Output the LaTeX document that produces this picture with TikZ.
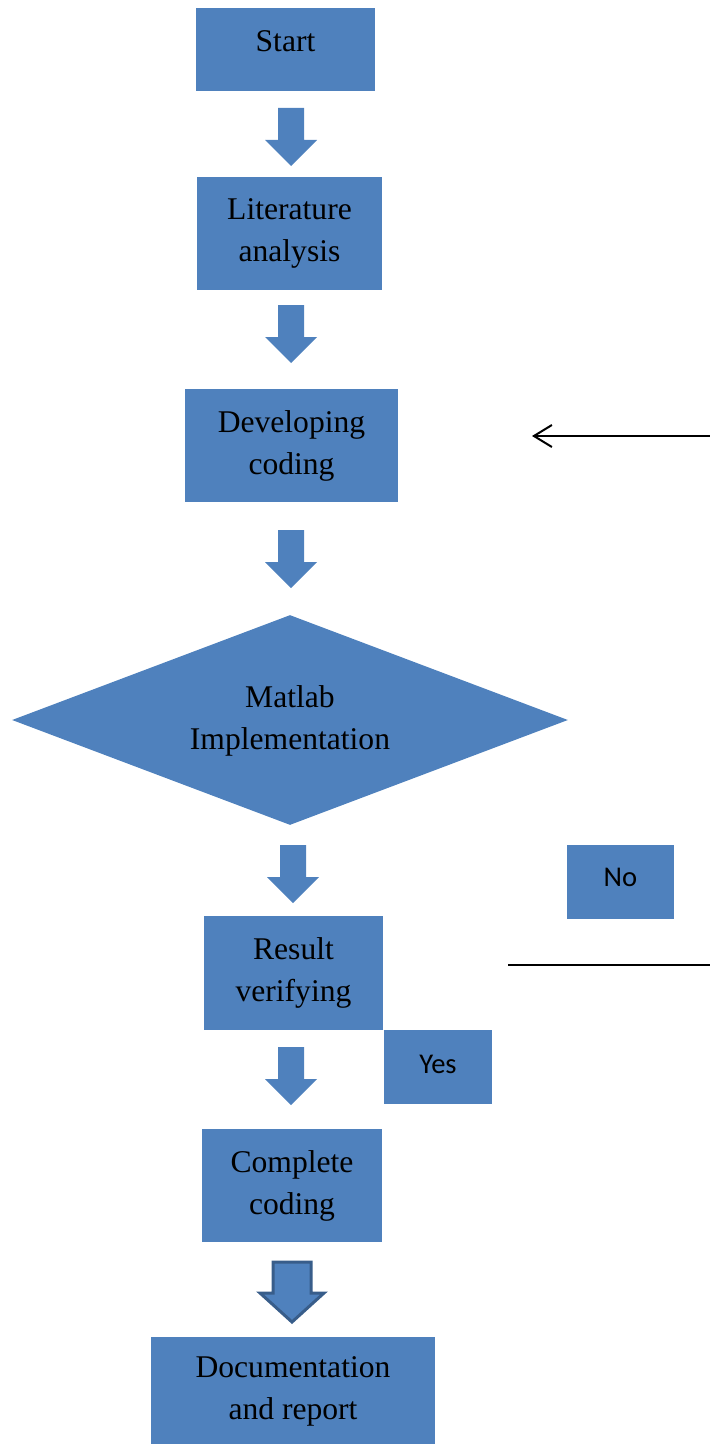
\documentclass[tikz,border=0pt]{standalone}
\usepackage{fontspec}
\setmainfont{Liberation Serif}
\newfontfamily\calibrifont{Carlito}
\usetikzlibrary{shapes.geometric,arrows.meta}
\definecolor{boxblue}{HTML}{4F81BD}
\definecolor{edgeblue}{HTML}{385D8A}
\tikzset{
  stepbox/.style={fill=boxblue, inner sep=0pt, align=center,
    font=\fontsize{15.8}{21}\selectfont},
  tagbox/.style={fill=boxblue, inner sep=0pt,
    font=\calibrifont\fontsize{14.3}{17}\selectfont},
}
% block arrow pointing down: centre x, top y
\newcommand{\downblock}[2]{%
  \fill[boxblue] (#1-13,#2) -- (#1+13,#2) -- (#1+13,#2+32) -- (#1+26,#2+32)
    -- (#1,#2+58) -- (#1-26,#2+32) -- (#1-13,#2+32) -- cycle;}
\begin{document}
\begin{tikzpicture}[x=0.5pt, y=-0.5pt]
            \useasboundingbox (0,0) rectangle (710,1445);
            \node[stepbox, minimum width=89.5pt, minimum height=41.5pt] (start) at (285.5,49.5) {\raisebox{8pt}{Start}};
            \downblock{291}{108}
            \node[stepbox, minimum width=92.5pt, minimum height=56.5pt] (lit) at (289.5,233.5) {Literature\\analysis};
            \downblock{291}{305}
            \node[stepbox, minimum width=106.5pt, minimum height=56.5pt] (dev) at (291.5,445.5) {Developing\\coding};
            \downblock{291}{530}
            \node[stepbox, diamond, aspect=2.65, minimum width=278pt, minimum height=105pt] (matlab) at (290,720) {\raisebox{-3pt}{\begin{tabular}{@{}c@{}}Matlab\\Implementation\end{tabular}}};
            \downblock{293}{845}
            \node[stepbox, minimum width=89.5pt, minimum height=57pt] (verify) at (293.5,973) {Result\\verifying};
            \node[tagbox, minimum width=54pt, minimum height=37pt] (yes) at (438,1067) {\raisebox{3pt}{Yes}};
            \node[tagbox, minimum width=53.5pt, minimum height=37pt] (no) at (620.5,882) {\raisebox{4.5pt}{No}};
            \downblock{291}{1047}
            \node[stepbox, minimum width=90pt, minimum height=56.5pt] (complete) at (292,1185.5) {Complete\\coding};
            \filldraw[fill=boxblue, draw=edgeblue, line width=1.5pt, line join=miter]
              (273,1262) -- (311,1262) -- (311,1293) -- (324,1293) -- (292,1322)
              -- (260,1293) -- (273,1293) -- cycle;
            \node[stepbox, minimum width=142pt, minimum height=53.5pt] (doc) at (293,1390.5) {\raisebox{-2.5pt}{\begin{tabular}{@{}c@{}}Documentation\\and report\end{tabular}}};
            % loop back lines
            \coordinate (loopin) at (710,436);
            \coordinate (looptip) at (532,436);
            \draw[line width=1pt, -{Straight Barb[length=9pt,width=11pt,line width=1pt]}] (loopin) -- (looptip);
            \coordinate (nostart) at (508,965);
            \coordinate (noend) at (710,965);
            \draw[line width=1pt] (nostart) -- (noend);
\end{tikzpicture}
\end{document}
